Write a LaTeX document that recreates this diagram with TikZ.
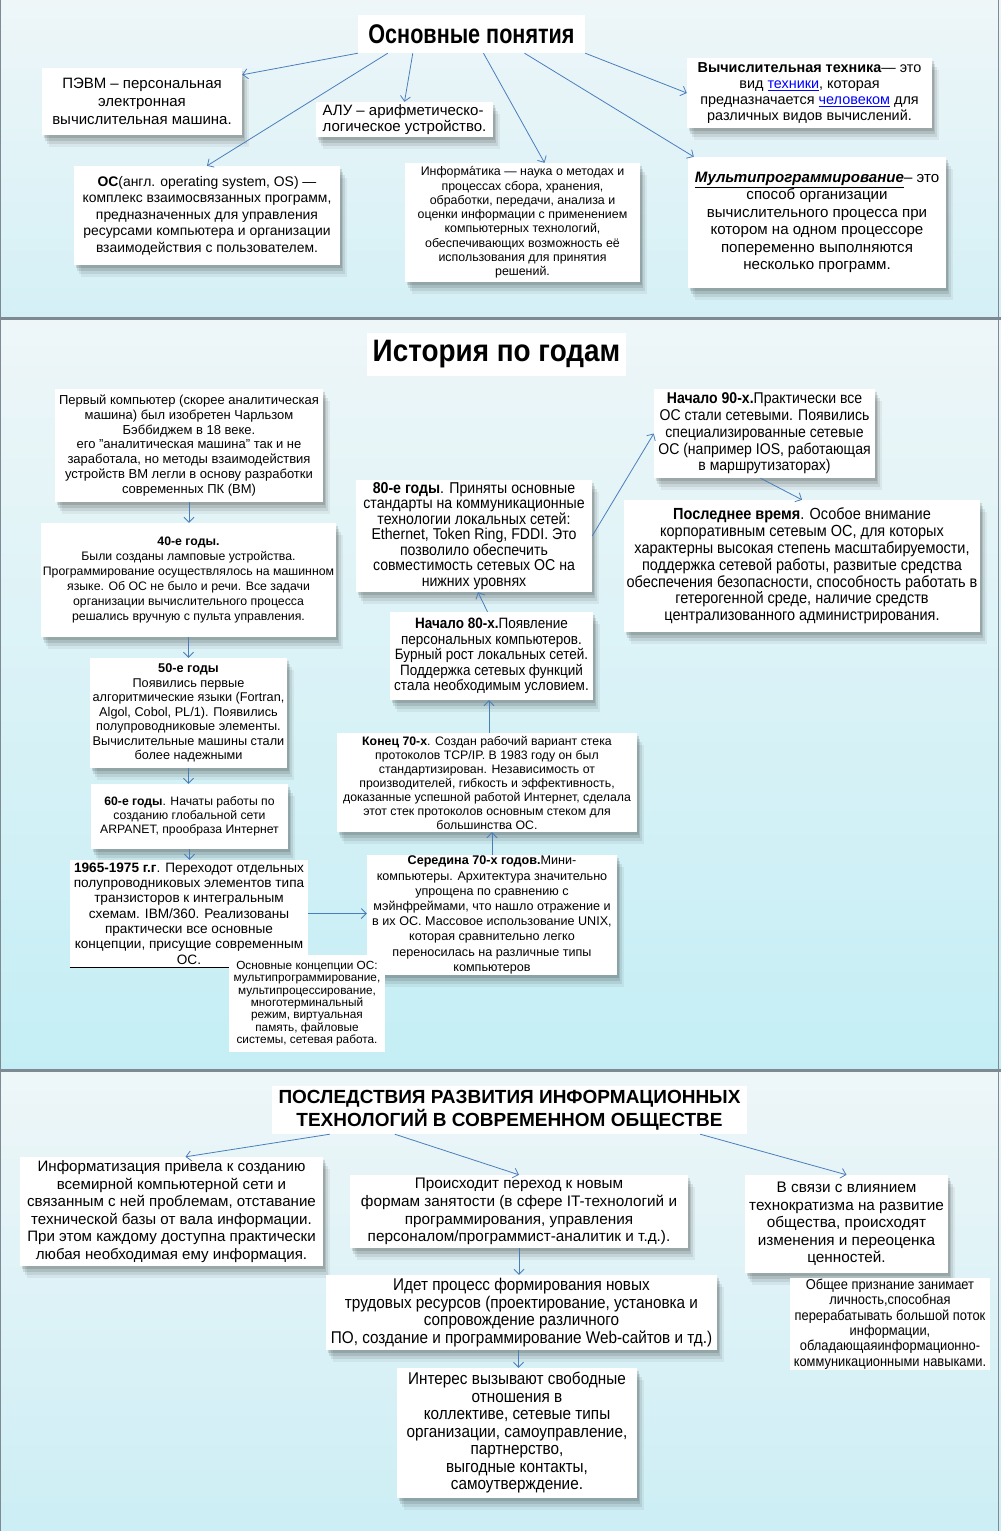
\documentclass[tikz,border=0pt]{standalone}
\usepackage{fontspec}
\setmainfont{Liberation Sans}
\newfontfamily\nrw[FakeStretch=0.9]{Liberation Sans}
\newfontfamily\nrwt[FakeStretch=0.8]{Liberation Sans}
\usetikzlibrary{arrows.meta,shadows,calc}
\newcommand\myfs[2]{\fontsize{#1}{#2}\selectfont}
\newcommand\lnk[1]{\textcolor{blue}{\underline{#1}}}
\definecolor{arr}{RGB}{74,126,187}
\definecolor{bgtop}{RGB}{238,246,248}
\definecolor{bgbotA}{RGB}{212,240,246}
\definecolor{bgbotB}{RGB}{196,238,245}
\definecolor{bgbotC}{RGB}{204,238,245}
\definecolor{sepc}{RGB}{125,138,148}
\tikzset{
  shd/.style={
    general shadow={fill=black,opacity=0.12,shadow xshift=2pt,shadow yshift=-3pt},
    general shadow={fill=black,opacity=0.10,shadow xshift=3pt,shadow yshift=-6pt},
    general shadow={fill=black,opacity=0.08,shadow xshift=5pt,shadow yshift=-9pt},
    general shadow={fill=black,opacity=0.05,shadow xshift=7pt,shadow yshift=-12pt}},
  plain/.style={fill=white, inner sep=0pt, align=center},
  box/.style={plain, shd},
  ttl/.style={plain},
  con/.style={draw=arr, line width=0.8pt, -{Straight Barb[length=5pt,width=10pt]}},
}
\begin{document}
\begin{tikzpicture}[x=1pt,y=-1pt]
\useasboundingbox (0,0) rectangle (1001,1531);
% backgrounds
\fill[top color=bgtop, bottom color=bgbotA] (0,0) rectangle (1001,318);
\fill[top color=bgtop, bottom color=bgbotB] (0,318) rectangle (1001,1070);
\fill[top color=bgtop, bottom color=bgbotC] (0,1070) rectangle (1001,1531);
\draw[sepc, line width=3pt] (0,318) -- (1001,318);
\draw[sepc, line width=3pt] (0,1070) -- (1001,1070);
\draw[sepc, line width=1.5pt] (998.5,0) -- (998.5,1531);
\draw[sepc, line width=1pt] (0.5,0) -- (0.5,1531);

% ---------------- Panel 1 ----------------
\node[ttl, minimum width=227pt, minimum height=38pt, font=\nrwt\bfseries\myfs{27}{30}] (t1) at (471.5,34) {Основные понятия};

\node[box, minimum width=200pt, minimum height=67pt, font=\myfs{15}{18}] (pevm) at (142,101.5)
 {ПЭВМ – персональная\\электронная\\вычислительная машина.};
\node[box, minimum width=177pt, minimum height=35pt, font=\myfs{15}{16}, align=left] (alu) at (404.5,119.5)
 {АЛУ – арифметическо-\\логическое устройство.};
\node[box, minimum width=266pt, minimum height=99pt, font=\myfs{13.9}{16.5}] (os) at (207,215.5)
 {\textbf{ОС}(англ. operating system, OS) —\\комплекс взаимосвязанных программ,\\предназначенных для управления\\ресурсами компьютера и организации\\взаимодействия с пользователем.};
\node[box, minimum width=235pt, minimum height=119pt, font=\myfs{12.4}{14.3}] (inf) at (522.5,222.5)
 {Информ\accent"B4 атика — наука о методах и\\процессах сбора, хранения,\\обработки, передачи, анализа и\\оценки информации с применением\\компьютерных технологий,\\обеспечивающих возможность её\\использования для принятия\\решений.};
\node[box, minimum width=245pt, minimum height=70pt, font=\myfs{14.4}{16}] (vt) at (809.5,93)
 {\textbf{Вычислительная техника}— это\\вид \lnk{техники}, которая\\предназначается \lnk{человеком} для\\различных видов вычислений.};
\node[box, minimum width=258pt, minimum height=131pt, font=\myfs{15.1}{17.5}] (mp) at (817,222.5)
 {\underline{\textbf{\textit{Мультипрограммирование}}}– это\\способ организации\\вычислительного процесса при\\котором на одном процессоре\\попеременно выполняются\\несколько программ.};

\draw[con] (t1.south west) -- ([yshift=-7pt]pevm.north east);
\draw[con] ([xshift=30pt]t1.south west) -- (os.north);
\draw[con] ([xshift=55pt]t1.south west) -- (alu.north);
\draw[con] ([xshift=12pt]t1.south) -- ([xshift=22pt]inf.north);
\draw[con] (t1.south east) -- (vt.west);
\draw[con] ([xshift=53pt]t1.south) -- ([xshift=6pt]mp.north west);

% ---------------- Panel 2 ----------------
\node[ttl, minimum width=259pt, minimum height=43pt, font=\nrw\bfseries\myfs{31}{33}] (t2) at (496.5,354.5) {История по годам};

\node[box, minimum width=268pt, minimum height=113pt, font=\myfs{13}{14.8}] (fc) at (189,445.5)
 {Первый компьютер (скорее аналитическая\\машина) был изобретен Чарльзом\\Бэббиджем в 18 веке.\\его "аналитическая машина" так и не\\заработала, но методы взаимодействия\\устройств ВМ легли в основу разработки\\современных ПК (ВМ)};
\node[box, minimum width=295pt, minimum height=114pt, font=\myfs{12.3}{15}] (y40) at (188.5,580)
 {\textbf{40-е годы.}\\Были созданы ламповые устройства.\\Программирование осуществлялось на машинном\\языке. Об ОС не было и речи. Все задачи\\организации вычислительного процесса\\решались вручную с пульта управления.};
\node[box, minimum width=197pt, minimum height=110pt, font=\myfs{12.7}{14.5}] (y50) at (188.5,713)
 {\textbf{50-е годы}\\Появились первые\\алгоритмические языки (Fortran,\\Algol, Cobol, PL/1). Появились\\полупроводниковые элементы.\\Вычислительные машины стали\\более надежными};
\node[box, minimum width=197pt, minimum height=65pt, font=\myfs{12.2}{14}] (y60) at (189.5,816.5)
 {\textbf{60-е годы}. Начаты работы по\\созданию глобальной сети\\ARPANET, прообраза Интернет};
\node[plain, minimum width=238pt, minimum height=107pt, font=\myfs{13.6}{15.3}] (y65) at (189,913.5)
 {\textbf{1965-1975 г.г}. Переходот отдельных\\полупроводниковых элементов типа\\транзисторов к интегральным\\схемам. IBM/360. Реализованы\\практически все основные\\концепции, присущие современным\\ОС.};
\draw[black, line width=1pt] (y65.south west) -- (y65.south east);

\node[box, minimum width=250pt, minimum height=120pt, font=\myfs{12.6}{15.2}] (m70) at (492,915)
 {\textbf{Середина 70-х годов.}Мини-\\компьютеры. Архитектура значительно\\упрощена по сравнению с\\мэйнфреймами, что нашло отражение и\\в их ОС. Массовое использование UNIX,\\которая сравнительно легко\\переносилась на различные типы\\компьютеров};
\draw[black, line width=0.8pt] ([xshift=0pt,yshift=-102pt]m70.north west) -- ([xshift=11pt,yshift=-102pt]m70.north west);

\node[plain, minimum width=156pt, minimum height=97pt, font=\myfs{11.8}{12.4}] (koc) at (307,1003.5)
 {Основные концепции ОС:\\мультипрограммирование,\\мультипроцессирование,\\многотерминальный\\режим, виртуальная\\память, файловые\\системы, сетевая работа.};

\node[box, minimum width=300pt, minimum height=99pt, font=\myfs{12.3}{14}] (e70) at (487,782.5)
 {\textbf{Конец 70-х}. Создан рабочий вариант стека\\протоколов TCP/IP. В 1983 году он был\\стандартизирован. Независимость от\\производителей, гибкость и эффективность,\\доказанные успешной работой Интернет, сделала\\этот стек протоколов основным стеком для\\большинства ОС.};
\node[box, minimum width=203pt, minimum height=88pt, font=\nrw\myfs{15}{15.5}] (b80) at (491.5,656)
 {\textbf{Начало 80-х.}Появление\\персональных компьютеров.\\Бурный рост локальных сетей.\\Поддержка сетевых функций\\стала необходимым условием.};
\node[box, minimum width=236pt, minimum height=112pt, font=\nrw\myfs{15.7}{15.5}] (y80) at (474,536)
 {\textbf{80-е годы}. Приняты основные\\стандарты на коммуникационные\\технологии локальных сетей:\\Ethernet, Token Ring, FDDI. Это\\позволило обеспечить\\совместимость сетевых ОС на\\нижних уровнях};
\node[box, minimum width=221pt, minimum height=89pt, font=\nrw\myfs{15.6}{16.7}] (b90) at (764.5,433.5)
 {\textbf{Начало 90-х.}Практически все\\ОС стали сетевыми. Появились\\специализированные сетевые\\ОС (например IOS, работающая\\в маршрутизаторах)};
\node[box, minimum width=356pt, minimum height=132pt, font=\nrw\myfs{16.1}{16.8}] (last) at (802,566)
 {\textbf{Последнее время}. Особое внимание\\корпоративным сетевым ОС, для которых\\характерны высокая степень масштабируемости,\\поддержка сетевой работы, развитые средства\\обеспечения безопасности, способность работать в\\гетерогенной среде, наличие средств\\централизованного администрирования.};

\draw[con] (fc.south) -- (fc.south |- y40.north);
\draw[con] (y40.south) -- (y40.south |- y50.north);
\draw[con] (y50.south) -- (y50.south |- y60.north);
\draw[con] (y60.south) -- (y60.south |- y65.north);
\draw[con] (y65.east) -- (y65.east -| m70.west);
\draw[con] (m70.north) -- (m70.north |- e70.south);
\draw[con] ([xshift=2pt]e70.north) -- ([xshift=2pt]e70.north |- b80.south);
\draw[con] ([xshift=-4pt]b80.north) -- ([xshift=4pt]y80.south);
\draw[con] (y80.east) -- (b90.west);
\draw[con] ([xshift=-4pt]b90.south) -- (last.north);

% ---------------- Panel 3 ----------------
\node[ttl, minimum width=475pt, minimum height=48pt, font=\bfseries\myfs{19}{23}] (t3) at (509.5,1110)
 {ПОСЛЕДСТВИЯ РАЗВИТИЯ ИНФОРМАЦИОННЫХ\\ТЕХНОЛОГИЙ В СОВРЕМЕННОМ ОБЩЕСТВЕ};

\node[box, minimum width=303pt, minimum height=109pt, font=\myfs{15.1}{17.5}] (inf3) at (171.5,1211.5)
 {Информатизация привела к созданию\\всемирной компьютерной сети и\\связанным с ней проблемам, отставание\\технической базы от вала информации.\\При этом каждому доступна практически\\любая необходимая ему информация.};
\node[box, minimum width=338pt, minimum height=73pt, font=\myfs{15.3}{17.7}] (prx) at (519,1211.5)
 {Происходит переход к новым\\формам занятости (в сфере IT-технологий и\\программирования, управления\\персоналом/программист-аналитик и т.д.).};
\node[box, minimum width=203pt, minimum height=98pt, font=\myfs{15.3}{17.5}] (vs) at (846.5,1224)
 {В связи с влиянием\\технократизма на развитие\\общества, происходят\\изменения и переоценка\\ценностей.};
\node[plain, minimum width=200pt, minimum height=92pt, font=\nrw\myfs{14.3}{15.4}] (ob) at (890,1324)
 {Общее признание занимает\\личность,способная\\перерабатывать большой поток\\информации,\\обладающаяинформационно-\\коммуникационными навыками.};
\node[box, minimum width=391pt, minimum height=75pt, font=\nrw\myfs{17}{17.7}] (idet) at (521.5,1312.5)
 {Идет процесс формирования новых\\трудовых ресурсов (проектирование, установка и\\сопровождение различного\\ПО, создание и программирование Web-сайтов и тд.)};
\node[box, minimum width=240pt, minimum height=130pt, font=\nrw\myfs{17}{17.5}] (int) at (517,1433)
 {Интерес вызывают свободные\\отношения в\\коллективе, сетевые типы\\организации, самоуправление,\\партнерство,\\выгодные контакты,\\самоутверждение.};

\draw[con] ([xshift=58pt]t3.south west) -- ([xshift=14pt]inf3.north);
\draw[con] ([xshift=123pt]t3.south west) -- (prx.north);
\draw[con] ([xshift=-47pt]t3.south east) -- (vs.north);
\draw[con] (prx.south) -- (prx.south |- idet.north);
\draw[con] ([xshift=-3pt]idet.south) -- ([xshift=-3pt]idet.south |- int.north);
\end{tikzpicture}
\end{document}
